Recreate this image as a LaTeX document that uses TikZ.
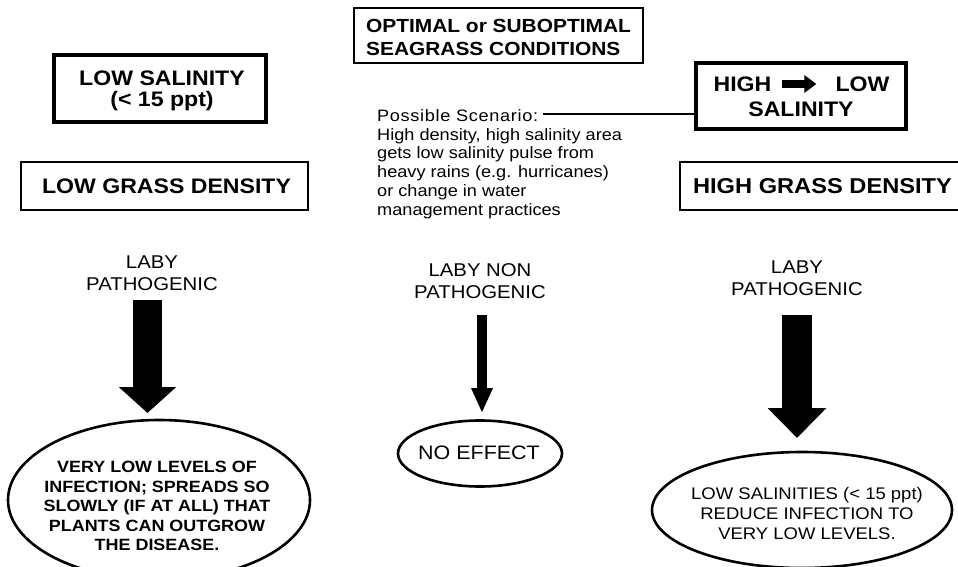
\documentclass[tikz,border=0pt]{standalone}
\usepackage{fontspec}
\setmainfont{Liberation Sans}[FakeStretch=1.1]
\usetikzlibrary{arrows.meta}
\begin{document}
\begin{tikzpicture}[x=1pt,y=-1pt,
  thinbox/.style={draw, line width=1.3pt, inner sep=0pt, align=center},
  thickbox/.style={draw, line width=3.2pt, inner sep=0pt, align=center},
  boxfont/.style={font=\bfseries\fontsize{21}{21}\selectfont},
  lbl/.style={inner sep=0pt, align=center, font=\fontsize{18.5}{22}\selectfont},
  body/.style={inner sep=0pt, align=left, font=\fontsize{16.5}{18.8}\selectfont},
  oval/.style={line width=2.6pt},
  bigarrow/.style={line width=29pt, -{Triangle[length=26pt,width=56pt]}},
  smallarrow/.style={line width=10pt, -{Triangle[length=25pt,width=20pt]}},
]
\useasboundingbox (0,0) rectangle (958,567);
\clip (0,0) rectangle (958,567);
\fill[white] (0,0) rectangle (958,567);

% top boxes
\node[thinbox, minimum width=289pt, minimum height=55pt] (optbox) at (498.5,35.5) {};
\node[inner sep=0pt, align=left,
      font=\bfseries\fontsize{19}{23}\selectfont] (opt) at (498.5,37.5)
  {OPTIMAL or SUBOPTIMAL\\SEAGRASS CONDITIONS};

\node[thickbox, minimum width=212pt, minimum height=67pt] (lowsalbox) at (160,88.5) {};
\node[inner sep=0pt, align=center, font=\bfseries\fontsize{21}{21.5}\selectfont] (lowsal) at (162,91)
  {LOW SALINITY\\(< 15 ppt)};

\node[thinbox, minimum width=287pt, minimum height=48pt] (lgdbox) at (164.5,186) {};
\node[inner sep=0pt, boxfont] (lgd) at (166.5,186) {LOW GRASS DENSITY};

\node[thickbox, minimum width=210pt, minimum height=66pt] (hlbox) at (801,96) {};
\node[inner sep=0pt, boxfont] (high) at (742.5,84) {HIGH};
\node[inner sep=0pt, boxfont] (low) at (862.5,84) {LOW};
\node[inner sep=0pt, boxfont] (sal) at (801,109) {SALINITY};
\draw[line width=8pt, -{Triangle[length=12pt,width=17pt]},
      shorten <=10pt, shorten >=19pt] (high.east) -- (low.west);

\node[thinbox, minimum width=300pt, minimum height=48pt] (hgdbox) at (830,186) {};
\node[inner sep=0pt, font=\bfseries\fontsize{21.5}{21.5}\selectfont] (hgd) at (822.5,186) {HIGH GRASS DENSITY};

% scenario text
\node[body, anchor=west] (scen) at (377,164)
  {{\addfontfeature{LetterSpace=4}Possible Scenario:}\\High density, high salinity area\\gets low salinity pulse from\\heavy rains (e.g. hurricanes)\\or change in water\\management practices};
\coordinate (scenend) at (543,114);
\draw[line width=2.8pt] (scenend) -- (scenend -| hlbox.west);

% labels
\node[lbl] (lab1) at (152,273.5) {LABY\\PATHOGENIC};
\node[lbl] (lab2) at (480,281.5) {LABY NON\\PATHOGENIC};
\node[lbl] (lab3) at (797,278.5) {LABY\\PATHOGENIC};

% arrows
\coordinate (a1s) at (147.5,300);
\coordinate (a1e) at (147.5,413);
\coordinate (a2s) at (482,315);
\coordinate (a2e) at (482,413);
\coordinate (a3s) at (797,315);
\coordinate (a3e) at (797,438);
\draw[bigarrow] (a1s) -- (a1e);
\draw[smallarrow] (a2s) -- (a2e);
\draw[line width=30pt, -{Triangle[length=30pt,width=57pt]}] (a3s) -- (a3e);

% ellipses
\draw[oval] (159,500) ellipse [x radius=151pt, y radius=80pt];
\node[inner sep=0pt, align=center, font=\bfseries\fontsize{16.3}{19.5}\selectfont] (res1) at (157,506)
  {VERY LOW LEVELS OF\\INFECTION; SPREADS SO\\SLOWLY (IF AT ALL) THAT\\PLANTS CAN OUTGROW\\THE DISEASE.};

\draw[oval] (480,453.5) ellipse [x radius=82pt, y radius=33pt];
\node[inner sep=0pt, font=\fontsize{19.5}{19.5}\selectfont] (res2) at (479,453) {NO EFFECT};

\draw[oval] (802,510) ellipse [x radius=150pt, y radius=58pt];
\node[inner sep=0pt, align=center, font=\fontsize{16.8}{20}\selectfont] (res3) at (807,513)
  {LOW SALINITIES (< 15 ppt)\\REDUCE INFECTION TO\\VERY LOW LEVELS.};
\end{tikzpicture}
\end{document}
